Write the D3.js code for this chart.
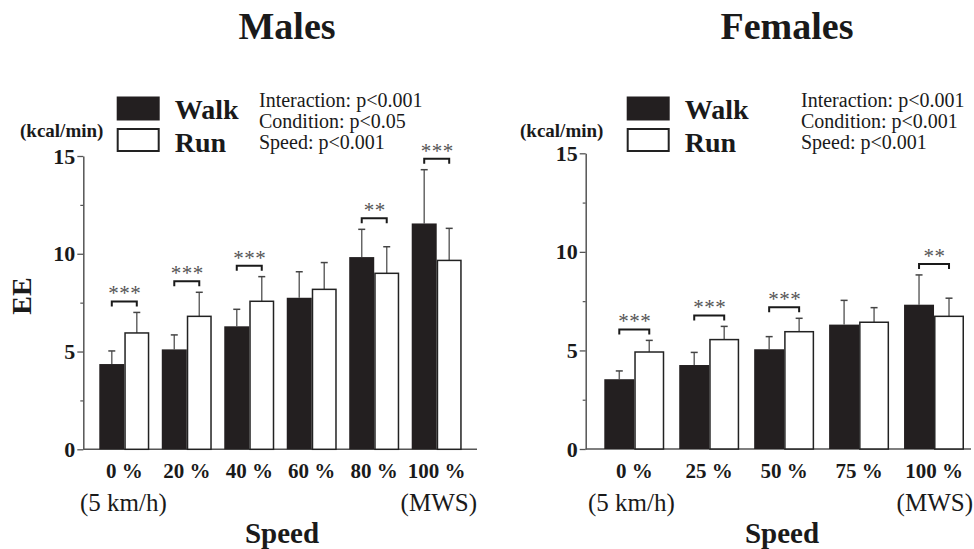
<!DOCTYPE html>
<html>
<head>
<meta charset="utf-8">
<script src="https://cdn.jsdelivr.net/npm/d3@7"></script>
<style>
  html, body { margin: 0; padding: 0; background: #fff; }
  svg { display: block; font-family: "Liberation Serif", "Times New Roman", serif; }
  svg text { font-family: "Liberation Serif", "Times New Roman", serif; }
</style>
</head>
<body>
<svg id="chart" width="974" height="549"></svg>
<script>
// ---------------- data ----------------
const malesSpeeds = ["0 %", "20 %", "40 %", "60 %", "80 %", "100 %"];
const malesWalk   = [4.36, 5.11, 6.29, 7.75, 9.83, 11.55];
const malesWalkSD = [0.67, 0.74, 0.87, 1.33, 1.42, 2.75];
const malesRun    = [5.95, 6.80, 7.57, 8.18, 9.00, 9.66];
const malesRunSD  = [1.05, 1.23, 1.26, 1.37, 1.36, 1.64];
const malesSig    = ["***", "***", "***", "", "**", "***"];
const malesStats  = ["Interaction: p<0.001", "Condition: p<0.05", "Speed: p<0.001"];

const femalesSpeeds = ["0 %", "25 %", "50 %", "75 %", "100 %"];
const femalesWalk   = [3.54, 4.26, 5.06, 6.31, 7.32];
const femalesWalkSD = [0.42, 0.64, 0.64, 1.23, 1.51];
const femalesRun    = [4.92, 5.55, 5.95, 6.43, 6.73];
const femalesRunSD  = [0.59, 0.67, 0.68, 0.74, 0.92];
const femalesSig    = ["***", "***", "***", "", "**"];
const femalesStats  = ["Interaction: p<0.001", "Condition: p<0.001", "Speed: p<0.001"];

const yTicks = [0, 5, 10, 15];
const yMinorTicks = [2.5, 7.5, 12.5];
const seriesNames = ["Walk", "Run"];

// ---------------- drawing ----------------
const svg = d3.select("#chart");
const WALK = "#231f20";
const INK = "#1a1a1a";

function drawPanel(p) {
  const g = svg.append("g");
  const y = d3.scaleLinear().domain([0, 15]).range([p.y0, p.y15]);
  const x = d3.scaleBand().domain(p.speeds).range([p.barL, p.barR]).paddingInner(0.2).paddingOuter(0);
  const sub = d3.scaleBand().domain(seriesNames).range([0, x.bandwidth()]);
  const bw = sub.bandwidth();

  // title
  g.append("text").attr("x", p.titleX).attr("y", 39).attr("text-anchor", "middle")
    .attr("font-size", 38).attr("font-weight", "bold").attr("fill", INK).text(p.title);

  // y axis
  const ax = g.append("g").attr("transform", `translate(${p.axisX},0)`)
    .call(d3.axisLeft(y).tickValues(yTicks).tickSize(6).tickSizeOuter(0).tickPadding(2).tickFormat(d3.format("d")));
  ax.attr("font-family", null);
  ax.select(".domain").attr("stroke", "#555").attr("stroke-width", 1.5);
  ax.selectAll(".tick line").attr("stroke", "#555").attr("stroke-width", 1.3);
  ax.selectAll(".tick text").attr("font-size", 22).attr("font-weight", "bold").attr("fill", INK);
  const axm = g.append("g").attr("transform", `translate(${p.axisX},0)`)
    .call(d3.axisLeft(y).tickValues(yMinorTicks).tickSize(3).tickSizeOuter(0).tickFormat(""));
  axm.select(".domain").remove();
  axm.selectAll(".tick line").attr("stroke", "#555").attr("stroke-width", 1.2);

  // x baseline
  g.append("line").attr("x1", p.axisX).attr("x2", p.axisEnd)
    .attr("y1", y(0)).attr("y2", y(0)).attr("stroke", "#555").attr("stroke-width", 1.5);

  // unit label
  g.append("text").attr("x", p.unitX).attr("y", 137).attr("font-size", 19).attr("font-weight", "bold")
    .attr("fill", INK).text("(kcal/min)");

  // bars
  const rows = p.speeds.map((s, i) => ({
    s, walk: p.walk[i], walkSD: p.walkSD[i], run: p.run[i], runSD: p.runSD[i], sig: p.sig[i]
  }));
  const grp = g.selectAll(".grp").data(rows).enter().append("g")
    .attr("transform", d => `translate(${x(d.s)},0)`);

  const errBar = (sel, key, sdKey, name) => {
    const cx = sub(name) + bw / 2;
    sel.append("line").attr("x1", cx).attr("x2", cx)
      .attr("y1", d => y(d[key])).attr("y2", d => y(d[key] + d[sdKey]))
      .attr("stroke", "#666").attr("stroke-width", 1.5);
    sel.append("line").attr("x1", cx - 3.5).attr("x2", cx + 3.5)
      .attr("y1", d => y(d[key] + d[sdKey])).attr("y2", d => y(d[key] + d[sdKey]))
      .attr("stroke", "#444").attr("stroke-width", 1.5);
  };
  errBar(grp, "walk", "walkSD", "Walk");
  errBar(grp, "run", "runSD", "Run");

  grp.append("rect").attr("x", sub("Walk")).attr("width", bw)
    .attr("y", d => y(d.walk)).attr("height", d => y(0) - y(d.walk))
    .attr("fill", WALK);
  grp.append("rect").attr("x", sub("Run") + 0.75).attr("width", bw - 1.5)
    .attr("y", d => y(d.run)).attr("height", d => y(0) - y(d.run))
    .attr("fill", "#fff").attr("stroke", "#222").attr("stroke-width", 1.5);

  // significance brackets
  const sigG = grp.filter(d => d.sig !== "");
  const by = d => y(Math.max(d.walk + d.walkSD, d.run + d.runSD)) - 11;
  const c1 = sub("Walk") + bw / 2, c2 = sub("Run") + bw / 2;
  sigG.append("path")
    .attr("d", d => `M${c1},${by(d) + 5}V${by(d)}H${c2}V${by(d) + 5}`)
    .attr("fill", "none").attr("stroke", INK).attr("stroke-width", 2);
  sigG.append("text").attr("x", (c1 + c2) / 2 + 0.5).attr("y", d => by(d) - 1)
    .attr("text-anchor", "middle").attr("font-size", 21).attr("letter-spacing", 0.5)
    .attr("fill", "#555").text(d => d.sig);

  // x labels
  g.selectAll(".xl").data(p.speeds).enter().append("text")
    .attr("x", d => x(d) + x.bandwidth() / 2).attr("y", 478)
    .attr("text-anchor", "middle").attr("font-size", 21).attr("font-weight", "bold")
    .attr("fill", INK).text(d => d);
  g.append("text").attr("x", p.kmhX).attr("y", 511).attr("font-size", 25)
    .attr("fill", INK).text("(5 km/h)");
  g.append("text").attr("x", p.mwsX).attr("y", 511).attr("font-size", 25).attr("text-anchor", "end")
    .attr("fill", INK).text("(MWS)");
  g.append("text").attr("x", p.speedX).attr("y", 543).attr("text-anchor", "middle")
    .attr("font-size", 29).attr("font-weight", "bold").attr("fill", INK).text("Speed");

  // legend
  const lg = g.append("g");
  lg.append("rect").attr("x", p.legX).attr("y", 96.5).attr("width", 43).attr("height", 24).attr("fill", WALK);
  lg.append("rect").attr("x", p.legX + 1).attr("y", 129).attr("width", 41).attr("height", 22)
    .attr("fill", "#fff").attr("stroke", "#222").attr("stroke-width", 2);
  lg.append("text").attr("x", p.legX + 58).attr("y", 119).attr("font-size", 28).attr("font-weight", "bold")
    .attr("fill", INK).text(seriesNames[0]);
  lg.append("text").attr("x", p.legX + 58).attr("y", 152).attr("font-size", 28).attr("font-weight", "bold")
    .attr("fill", INK).text(seriesNames[1]);

  // stats
  g.selectAll(".st").data(p.stats).enter().append("text")
    .attr("x", p.statX).attr("y", (d, i) => 107 + i * 21)
    .attr("font-size", 20).attr("fill", INK).text(d => d);
}

drawPanel({
  title: "Males", titleX: 287,
  speeds: malesSpeeds, walk: malesWalk, walkSD: malesWalkSD, run: malesRun, runSD: malesRunSD, sig: malesSig,
  stats: malesStats,
  y0: 449.3, y15: 156, axisX: 83.3, axisEnd: 477, barL: 99.3, barR: 461.7,
  unitX: 20, legX: 116.7, statX: 259, kmhX: 80, mwsX: 477, speedX: 282
});

drawPanel({
  title: "Females", titleX: 787,
  speeds: femalesSpeeds, walk: femalesWalk, walkSD: femalesWalkSD, run: femalesRun, runSD: femalesRunSD, sig: femalesSig,
  stats: femalesStats,
  y0: 449, y15: 153.3, axisX: 585.7, axisEnd: 971, barL: 604.3, barR: 964,
  unitX: 520, legX: 626.7, statX: 801, kmhX: 588, mwsX: 973, speedX: 782
});

// y-axis title
svg.append("text").attr("transform", "translate(31,296) rotate(-90)")
  .attr("text-anchor", "middle").attr("font-size", 28).attr("font-weight", "bold")
  .attr("fill", INK).text("EE");
</script>
</body>
</html>
